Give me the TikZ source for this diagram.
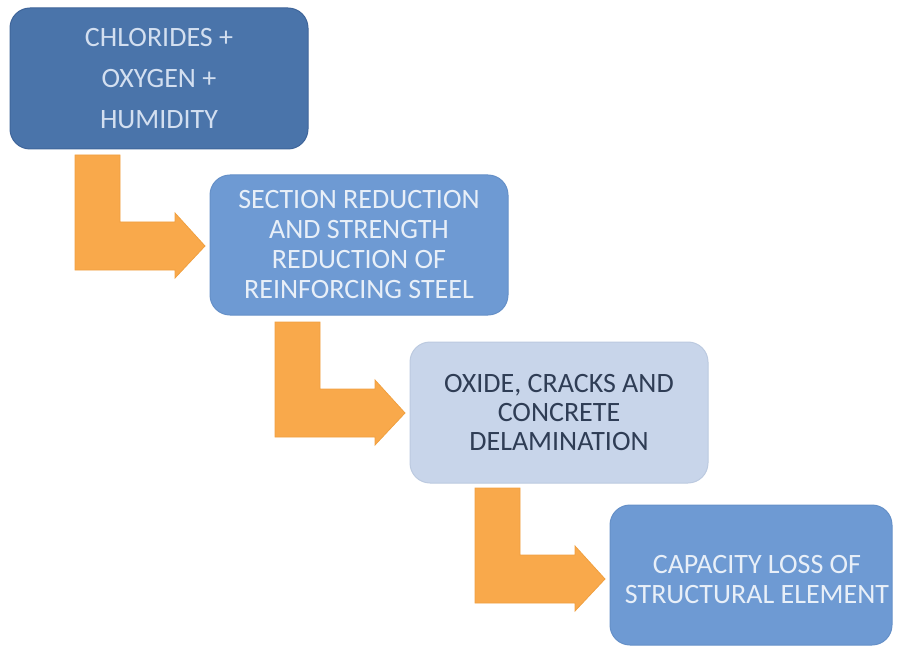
\documentclass[tikz,border=0pt]{standalone}
\usepackage{fontspec}
\setmainfont{Carlito}
\definecolor{boxA}{HTML}{4A74AA}
\definecolor{boxAline}{HTML}{3F659A}
\definecolor{boxB}{HTML}{6E9AD3}
\definecolor{boxBline}{HTML}{6590C8}
\definecolor{boxC}{HTML}{C8D5EA}
\definecolor{boxCline}{HTML}{BCCAE0}
\definecolor{txtA}{HTML}{D3DFF0}
\definecolor{txtB}{HTML}{E8EFF8}
\definecolor{txtC}{HTML}{2F3D55}
\definecolor{arrowfill}{HTML}{F9A94B}
\definecolor{arrowline}{HTML}{F0A040}
\tikzset{
  stepbox/.style={rounded corners=20pt, minimum width=298pt, minimum height=141pt,
    align=center, inner sep=0pt, line width=1pt},
  bentarrow/.style={fill=arrowfill, draw=arrowline, line width=0.8pt, line join=miter},
}
\newcommand{\bentarrowshape}[2]{%
  \draw[bentarrow, shift={(#1,#2)}] (0,0) -- (45,0) -- (45,67) -- (100,67) -- (100,58)
    -- (130,91) -- (100,123) -- (100,115) -- (0,115) -- cycle;}
\begin{document}
\begin{tikzpicture}[x=1pt,y=-1pt]
\useasboundingbox (0,0) rectangle (897,647);
% boxes
\node[stepbox, fill=boxA, draw=boxAline, text=txtA,
  font=\fontsize{28}{41}\selectfont] (b1) at (159,78.5)
  {CHLORIDES +\\OXYGEN +\\HUMIDITY};
\node[stepbox, fill=boxB, draw=boxBline, text=txtB, minimum height=140pt,
  font=\fontsize{28}{30}\selectfont] (b2) at (359,245)
  {SECTION REDUCTION\\AND STRENGTH\\REDUCTION OF\\REINFORCING STEEL};
\node[stepbox, fill=boxC, draw=boxCline, text=txtC,
  font=\fontsize{28}{29}\selectfont] (b3) at (559,412.5)
  {OXIDE, CRACKS AND\\CONCRETE\\DELAMINATION};
\node[stepbox, fill=boxB, draw=boxBline, text=txtB, minimum width=282pt, minimum height=140pt,
  font=\fontsize{28}{30}\selectfont] (b4) at (751,575) {};
\node[text=txtB, align=center, inner sep=0pt, font=\fontsize{28}{30}\selectfont] (t4) at (757,580)
  {CAPACITY LOSS OF\\STRUCTURAL ELEMENT};
% bent arrows
\bentarrowshape{75}{155}
\bentarrowshape{275}{322}
\bentarrowshape{475}{488}
\end{tikzpicture}
\end{document}
